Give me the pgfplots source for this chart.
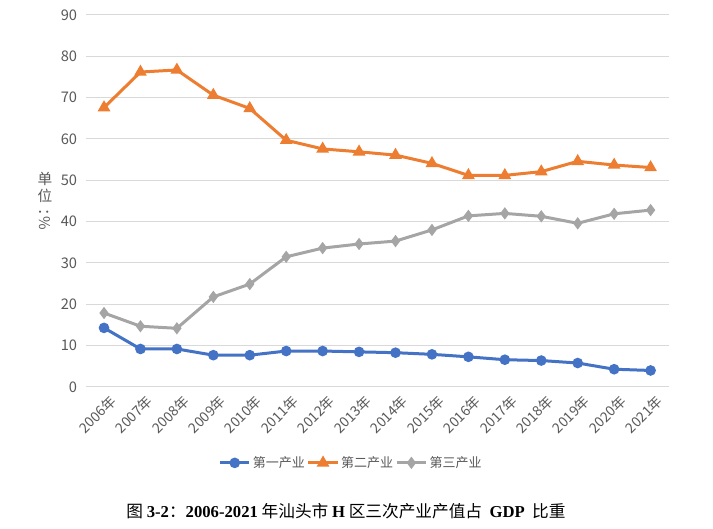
\documentclass[border=0pt]{standalone}
\usepackage{fontspec}
\setmainfont{Noto Sans CJK SC}
\newfontfamily\cjk{Noto Sans CJK SC}
\newfontfamily\tnr{Liberation Serif}
\usepackage{pgfplots}
\pgfplotsset{compat=1.18}
\definecolor{cblue}{HTML}{4472C4}
\definecolor{corange}{HTML}{ED7D31}
\definecolor{cgray}{HTML}{A5A5A5}
\definecolor{ctext}{HTML}{595959}
\definecolor{cgrid}{HTML}{D9D9D9}
\begin{document}
\begin{tikzpicture}
\path[use as bounding box] (0,0) rectangle (534.75pt,396pt);
\begin{axis}[
  at={(64.35pt,105.75pt)}, anchor=south west,
  scale only axis, width=437.25pt, height=279pt,
  xmin=-0.5, xmax=15.5, ymin=0, ymax=90,
  ytick={0,10,...,90},
  xtick={0,...,15},
  xticklabels={2006年,2007年,2008年,2009年,2010年,2011年,2012年,2013年,2014年,2015年,2016年,2017年,2018年,2019年,2020年,2021年},
  x tick label style={rotate=45, anchor=north east, font=\fontsize{10.5}{11}\selectfont, text=ctext, inner sep=1pt, yshift=-5pt},
  y tick label style={font=\fontsize{11}{12}\selectfont, text=ctext, xshift=-3pt},
  /pgf/number format/assume math mode=true,
  ymajorgrids, grid style={cgrid, line width=0.75pt},
  axis x line*=bottom, axis y line*=left,
  x axis line style={draw=none}, y axis line style={draw=none},
  major tick length=0pt,
  ytick style={draw=none}, xtick style={draw=none},
  legend columns=3,
  legend style={at={(0.455,-0.204)}, anchor=center, draw=none, font=\fontsize{9.75}{10}\selectfont, text=ctext, column sep=0pt, nodes={inner xsep=1.5pt}},
  legend image code/.code={\draw[#1] (0pt,0pt) -- (22pt,0pt); \draw[#1, only marks] plot coordinates {(11pt,0pt)};},
  clip=false,
]
\addplot[cblue, line width=2.25pt, mark=*, mark size=2.8pt] coordinates {
(0,14.3)(1,9.2)(2,9.2)(3,7.7)(4,7.7)(5,8.7)(6,8.7)(7,8.5)(8,8.3)(9,7.9)(10,7.3)(11,6.6)(12,6.4)(13,5.8)(14,4.3)(15,4.0)};
\addlegendentry{第一产业}
\addplot[corange, line width=2.25pt, mark=triangle*, mark size=3.3pt] coordinates {
(0,67.6)(1,76.2)(2,76.7)(3,70.6)(4,67.4)(5,59.7)(6,57.6)(7,56.9)(8,56.1)(9,54.1)(10,51.2)(11,51.2)(12,52.1)(13,54.6)(14,53.7)(15,53.1)};
\addlegendentry{第二产业}
\addplot[cgray, line width=2.25pt, mark=diamond*, mark size=2.8pt] coordinates {
(0,17.9)(1,14.7)(2,14.2)(3,21.8)(4,24.9)(5,31.5)(6,33.6)(7,34.6)(8,35.3)(9,38.0)(10,41.4)(11,42.0)(12,41.3)(13,39.6)(14,41.9)(15,42.8)};
\addlegendentry{第三产业}
\end{axis}
\node[text=ctext, font=\fontsize{11}{12.5}\selectfont, align=center, inner sep=0pt] at (33.75pt,245pt) {单\\位\\[-4pt]\rotatebox{-90}{\kern-3pt：\kern-5pt\%}};
\node[font=\fontsize{12.5}{13}\selectfont, inner sep=0pt] at (259.5pt,12.75pt) {图 {\tnr\bfseries 3-2}：{\tnr\bfseries 2006-2021} 年汕头市 {\tnr\bfseries H} 区三次产业产值占\ \ {\tnr\bfseries GDP}\ \ 比重};
\end{tikzpicture}
\end{document}
